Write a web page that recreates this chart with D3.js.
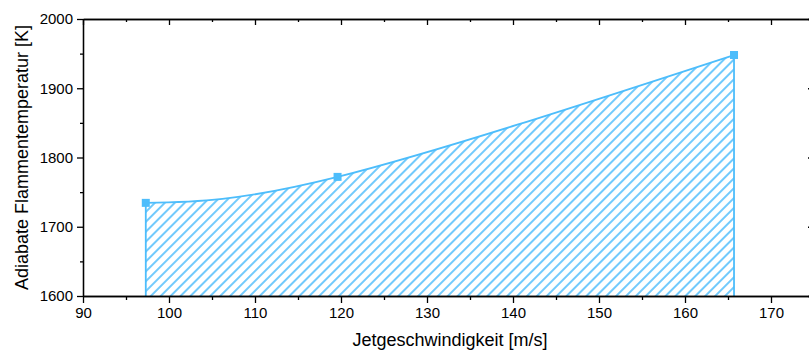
<!DOCTYPE html>
<html>
<head>
<meta charset="utf-8">
<script src="https://cdn.jsdelivr.net/npm/d3@7/dist/d3.min.js"></script>
<style>
  html, body { margin: 0; padding: 0; background: #fff; }
  svg { display: block; font-family: "Liberation Sans", Arial, sans-serif; }
</style>
</head>
<body>
<svg id="chart" width="809" height="352"></svg>
<script>
// Jet velocity [m/s] vs. adiabatic flame temperature [K]
const jetSpeed = [97.3, 119.6, 165.7];
const flameTemp = [1734.5, 1772, 1948];
const xTicks = [90, 100, 110, 120, 130, 140, 150, 160, 170];
const yTicks = [1600, 1700, 1800, 1900, 2000];
const xLabel = "Jetgeschwindigkeit [m/s]";
const yLabel = "Adiabate Flammentemperatur [K]";

const color = "#4dbdfb";
const W = 809, H = 352;
const m = { left: 83, top: 19, right: 814, bottom: 296 };

const svg = d3.select("#chart");

const x = d3.scaleLinear().domain([90, 175]).range([m.left, m.right]);
const y = d3.scaleLinear().domain([1600, 2000]).range([m.bottom, m.top]);

// hatch pattern for the filled area
const defs = svg.append("defs");
const pat = defs.append("pattern")
  .attr("id", "hatch")
  .attr("patternUnits", "userSpaceOnUse")
  .attr("width", 7).attr("height", 7)
  .attr("patternTransform", "rotate(45)");
pat.append("line")
  .attr("x1", 1).attr("y1", 0).attr("x2", 1).attr("y2", 7)
  .attr("stroke", color).attr("stroke-width", 1.6);

const pts = jetSpeed.map((v, i) => [v, flameTemp[i]]);

// area under the spline, closed down to the x axis
const area = d3.area()
  .x(d => x(d[0]))
  .y0(y(1600))
  .y1(d => y(d[1]))
  .curve(d3.curveNatural);

svg.append("path")
  .datum(pts)
  .attr("d", area)
  .attr("fill", "url(#hatch)")
  .attr("stroke", "none");

// outline: upper spline plus the two vertical edges
const line = d3.line().x(d => x(d[0])).y(d => y(d[1])).curve(d3.curveNatural);
svg.append("path")
  .datum(pts)
  .attr("d", line)
  .attr("fill", "none")
  .attr("stroke", color)
  .attr("stroke-width", 1.8);

[pts[0], pts[pts.length - 1]].forEach(p => {
  svg.append("line")
    .attr("x1", x(p[0])).attr("x2", x(p[0]))
    .attr("y1", y(p[1])).attr("y2", y(1600))
    .attr("stroke", color).attr("stroke-width", 1.8);
});

// square markers
svg.selectAll("rect.marker")
  .data(pts)
  .enter().append("rect")
  .attr("class", "marker")
  .attr("x", d => x(d[0]) - 4)
  .attr("y", d => y(d[1]) - 4)
  .attr("width", 8).attr("height", 8)
  .attr("fill", color);

// axes
const minorX = d3.range(95, 176, 10);
const minorY = d3.range(1650, 2000, 100);
const fmt = d3.format("d");

function styleAxis(g) {
  g.selectAll(".domain").attr("stroke", "#000").attr("stroke-width", 1.3);
  g.selectAll(".tick line").attr("stroke", "#000").attr("stroke-width", 1.3);
  g.selectAll("text").attr("fill", "#000").style("font-size", "15px");
}

// bottom
svg.append("g").attr("transform", `translate(0,${m.bottom})`)
  .call(d3.axisBottom(x).tickValues(xTicks).tickSize(7).tickPadding(4).tickFormat(fmt).tickSizeOuter(0))
  .call(styleAxis);
svg.append("g").attr("transform", `translate(0,${m.bottom})`)
  .call(d3.axisBottom(x).tickValues(minorX).tickSize(4).tickFormat("").tickSizeOuter(0))
  .call(styleAxis);

// top (mirrored, ticks pointing into the plot)
svg.append("g").attr("transform", `translate(0,${m.top})`)
  .call(d3.axisBottom(x).tickValues(xTicks).tickSize(6).tickFormat("").tickSizeOuter(0))
  .call(styleAxis);
svg.append("g").attr("transform", `translate(0,${m.top})`)
  .call(d3.axisBottom(x).tickValues(minorX).tickSize(3).tickFormat("").tickSizeOuter(0))
  .call(styleAxis);

// left
svg.append("g").attr("transform", `translate(${m.left},0)`)
  .call(d3.axisLeft(y).tickValues(yTicks).tickSize(6).tickPadding(4).tickFormat(fmt).tickSizeOuter(0))
  .call(styleAxis);
svg.append("g").attr("transform", `translate(${m.left},0)`)
  .call(d3.axisLeft(y).tickValues(minorY).tickSize(3).tickFormat("").tickSizeOuter(0))
  .call(styleAxis);

// right (mirrored)
svg.append("g").attr("transform", `translate(${m.right},0)`)
  .call(d3.axisLeft(y).tickValues(yTicks).tickSize(6).tickFormat("").tickSizeOuter(0))
  .call(styleAxis);
svg.append("g").attr("transform", `translate(${m.right},0)`)
  .call(d3.axisLeft(y).tickValues(minorY).tickSize(3).tickFormat("").tickSizeOuter(0))
  .call(styleAxis);

// axis titles
svg.append("text")
  .attr("x", 450).attr("y", 346)
  .attr("text-anchor", "middle")
  .style("font-size", "18px")
  .text(xLabel);

svg.append("text")
  .attr("transform", `translate(28,${(m.top + m.bottom) / 2}) rotate(-90)`)
  .attr("text-anchor", "middle")
  .style("font-size", "18px")
  .text(yLabel);
</script>
</body>
</html>
